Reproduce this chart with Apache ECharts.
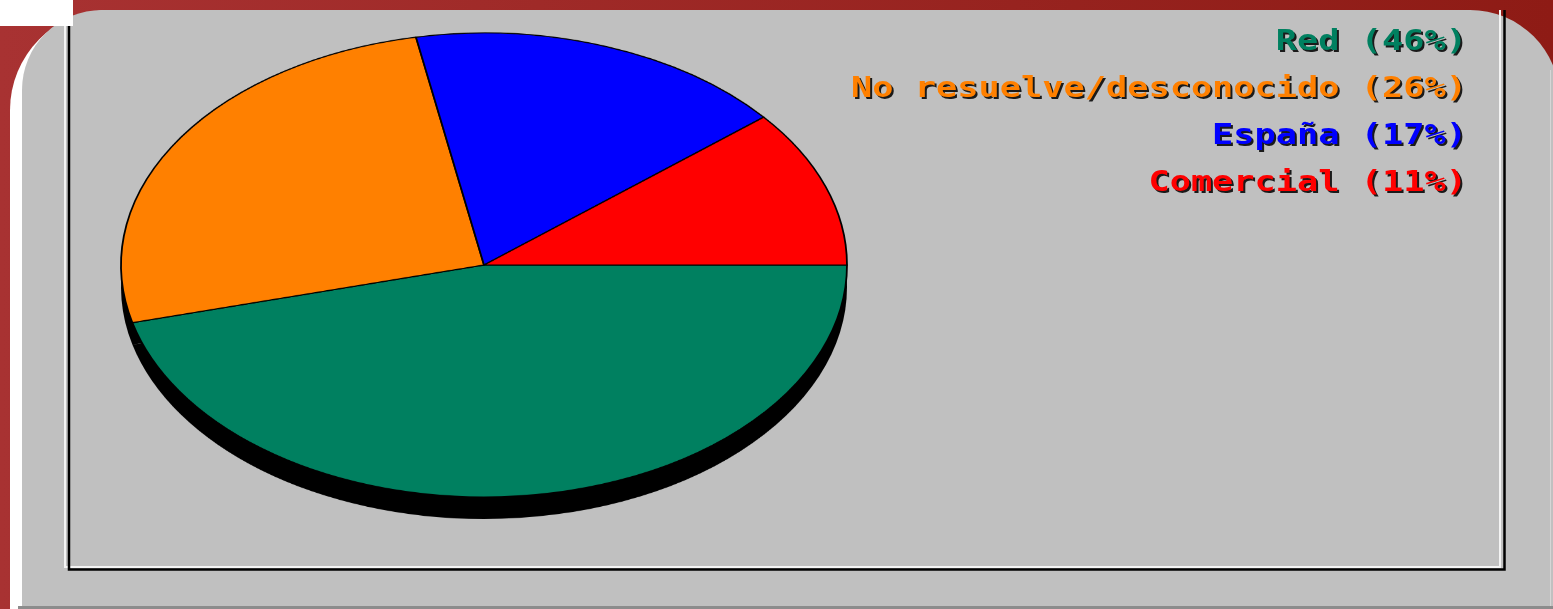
<!DOCTYPE html>
<html>
<head>
<meta charset="utf-8">
<script src="https://cdn.jsdelivr.net/npm/echarts@6/dist/echarts.min.js"></script>
<style>
  html, body { margin: 0; padding: 0; overflow: hidden; background: #fff; }
  #frame { position: absolute; left: 0; top: 0; width: 1553px; height: 609px; }
  /* the pie is drawn round and squashed into an ellipse */
  #pie { position: absolute; left: 0; top: 0; width: 1553px; height: 820px;
         transform: scaleY(0.6391); transform-origin: 0 0; pointer-events: none; }
</style>
</head>
<body>
<div id="frame"></div>
<div id="pie"></div>
<script>
var categories = ['Red', 'No resuelve/desconocido', 'España', 'Comercial'];
var shares = [46, 26, 17, 11];
var sliceColors = ['#008060', '#ff8000', '#0000ff', '#ff0000'];

var SY = 0.6391;       // vertical squash of the pie div
var cx = 484, cy = 265, rx = 363;
var shadowDrop = 22;

// ---- frame, panel, box and legend text ----
var frame = echarts.init(document.getElementById('frame'), null, { renderer: 'canvas' });

function legendText(i, dx, dy, color) {
  return {
    type: 'text',
    x: 1467 + dx,
    y: 43 + i * 47 + dy,
    scaleX: 1.26,
    style: {
      text: categories[i] + ' (' + shares[i] + '%)',
      fill: color,
      font: 'bold 28px "DejaVu Sans Mono"',
      align: 'right',
      verticalAlign: 'middle'
    }
  };
}

var legendTexts = [];
categories.forEach(function (name, i) {
  legendTexts.push(legendText(i, 2, 2, '#1a1a1a'));
  legendTexts.push(legendText(i, 0, 0, sliceColors[i]));
});

frame.setOption({
  animation: false,
  graphic: [
    {
      type: 'rect', shape: { x: 0, y: 0, width: 1553, height: 609 },
      style: {
        fill: new echarts.graphic.LinearGradient(0, 0, 1, 0, [
          { offset: 0, color: '#a83232' },
          { offset: 1, color: '#8e1b15' }
        ])
      }
    },
    { type: 'rect', shape: { x: 10, y: 10, width: 1000, height: 610, r: [100, 0, 0, 0] }, style: { fill: '#fff' } },
    { type: 'rect', shape: { x: 22, y: 10, width: 1538, height: 610, r: [80, 90, 0, 0] }, style: { fill: '#c0c0c0' } },
    { type: 'line', shape: { x1: 1550.5, y1: 70, x2: 1550.5, y2: 606 }, style: { stroke: '#d6d6d6', lineWidth: 1 } },
    { type: 'line', shape: { x1: 18, y1: 607.5, x2: 1553, y2: 607.5 }, style: { stroke: '#8c8c8c', lineWidth: 3 } },
    {
      type: 'polyline',
      shape: { points: [[65, 10], [65, 567], [1500, 567], [1500, 10]] },
      style: { stroke: '#f4f4f4', lineWidth: 2, fill: null }
    },
    {
      type: 'polyline',
      shape: { points: [[69, 10], [69, 569.5], [1504.5, 569.5], [1504.5, 10]] },
      style: { stroke: '#000', lineWidth: 2.5, fill: null }
    },
    { type: 'rect', shape: { x: 0, y: 0, width: 73, height: 26 }, style: { fill: '#fff' } }
  ].concat(legendTexts)
});

// ---- pie ----
var pie = echarts.init(document.getElementById('pie'), null, { renderer: 'canvas' });

var sliceData = categories.map(function (name, i) {
  return { name: name, value: shares[i], itemStyle: { color: sliceColors[i] } };
});

pie.setOption({
  animation: false,
  series: [
    {
      // black drop shadow under the pie
      type: 'pie',
      silent: true,
      center: [cx, (cy + shadowDrop) / SY],
      radius: rx,
      startAngle: 0,
      clockwise: true,
      label: { show: false },
      labelLine: { show: false },
      emphasis: { disabled: true },
      itemStyle: { color: '#000', borderWidth: 0 },
      data: shares.map(function (v, i) { return { name: categories[i], value: v }; }),
      z: 1
    },
    {
      type: 'pie',
      silent: true,
      center: [cx, cy / SY],
      radius: rx,
      startAngle: 0,
      clockwise: true,
      label: { show: false },
      labelLine: { show: false },
      emphasis: { disabled: true },
      itemStyle: { borderColor: '#000', borderWidth: 1.8 },
      data: sliceData,
      z: 2
    }
  ]
});
</script>
</body>
</html>
